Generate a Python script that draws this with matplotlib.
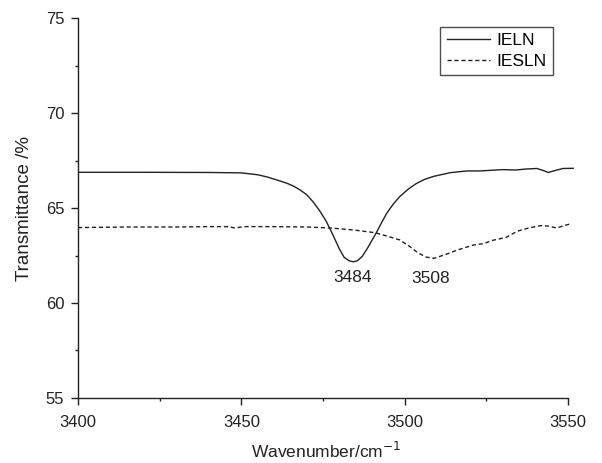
import matplotlib
matplotlib.use("Agg")
import matplotlib.pyplot as plt
from matplotlib.ticker import MultipleLocator

plt.rcParams["font.family"] = ["Liberation Sans", "DejaVu Sans"]

# IELN (solid)
ieln_x = [3400, 3420, 3440, 3450, 3455, 3458, 3461, 3464, 3466, 3468, 3470,
          3472, 3474, 3476, 3478, 3480, 3481.5, 3483, 3484.3, 3485.5, 3487,
          3488.5, 3490, 3491.5, 3493, 3494.5, 3496.5, 3498.5, 3501, 3503.5,
          3506, 3509, 3514, 3519, 3523, 3526, 3530, 3534, 3537, 3540.5,
          3542.5, 3544, 3546, 3548.5, 3551.6]
ieln_y = [66.88, 66.88, 66.87, 66.85, 66.75, 66.63, 66.47, 66.3, 66.15,
          65.95, 65.7, 65.32, 64.85, 64.3, 63.6, 62.85, 62.4, 62.22, 62.17,
          62.22, 62.45, 62.85, 63.3, 63.75, 64.25, 64.72, 65.2, 65.6, 65.98,
          66.28, 66.5, 66.67, 66.86, 66.95, 66.95, 66.98, 67.02, 67.0, 67.05,
          67.08, 66.97, 66.87, 66.97, 67.08, 67.09]

# IESLN (dashed)
iesln_x = [3400, 3415, 3430, 3440, 3446, 3448, 3451, 3460, 3470, 3477, 3484,
           3491, 3495, 3498.5, 3501.5, 3504, 3506.5, 3509, 3512.5, 3516,
           3521, 3524, 3527, 3531, 3534.5, 3538, 3541.5, 3544, 3546.5, 3550.6]
iesln_y = [63.97, 64.0, 64.0, 64.02, 64.02, 63.95, 64.02, 64.02, 64.0, 63.95,
           63.85, 63.7, 63.5, 63.32, 62.98, 62.65, 62.42, 62.35, 62.55, 62.78,
           63.05, 63.12, 63.3, 63.45, 63.78, 63.95, 64.07, 64.05, 63.95, 64.16]

peak_labels = ["3484", "3508"]
peak_x = [3484, 3508]
peak_y = [61.35, 61.3]

INK = "#222222"

fig = plt.figure(figsize=(6.02, 4.63), dpi=100)
ax = fig.add_axes([0.1296, 0.1404, 0.9543 - 0.1296, 0.9611 - 0.1404])

ax.plot(ieln_x, ieln_y, color=INK, lw=1.0, label="IELN")
ax.plot(iesln_x, iesln_y, color=INK, lw=1.0, ls=(0, (3, 2)), label="IESLN")

for lab, px, py in zip(peak_labels, peak_x, peak_y):
    ax.text(px, py, lab, ha="center", va="center", fontsize=12.5, color=INK)

ax.set_xlim(3400, 3552)
ax.set_ylim(55, 75)
ax.spines["top"].set_visible(False)
ax.spines["right"].set_visible(False)
ax.spines["bottom"].set_bounds(3400, 3550)
for s in ("left", "bottom"):
    ax.spines[s].set_linewidth(1.0)
    ax.spines[s].set_color(INK)

ax.xaxis.set_major_locator(MultipleLocator(50))
ax.xaxis.set_minor_locator(MultipleLocator(25))
ax.yaxis.set_major_locator(MultipleLocator(5))
ax.yaxis.set_minor_locator(MultipleLocator(2.5))
ax.tick_params(which="major", direction="out", length=5, width=1.0,
               labelsize=12, colors=INK)
ax.tick_params(axis="x", which="major", pad=7)
ax.tick_params(axis="y", which="major", pad=5)
ax.tick_params(which="minor", direction="out", length=2.5, width=1.0,
               colors=INK)

ax.set_xlabel("Wavenumber/cm$^{-1}$", fontsize=12.5, color=INK, labelpad=8)
ax.set_ylabel("Transmittance /%", fontsize=13.5, color=INK, labelpad=9)

leg = ax.legend(loc="upper left", bbox_to_anchor=(0.730, 0.976), fontsize=12.5,
                frameon=True, fancybox=False, handlelength=2.5,
                handletextpad=0.4, borderpad=0.35, labelspacing=0.35,
                borderaxespad=0, handleheight=0.6)
leg.get_frame().set_edgecolor(INK)
leg.get_frame().set_linewidth(1.0)

fig.savefig("out.png", dpi=100)
